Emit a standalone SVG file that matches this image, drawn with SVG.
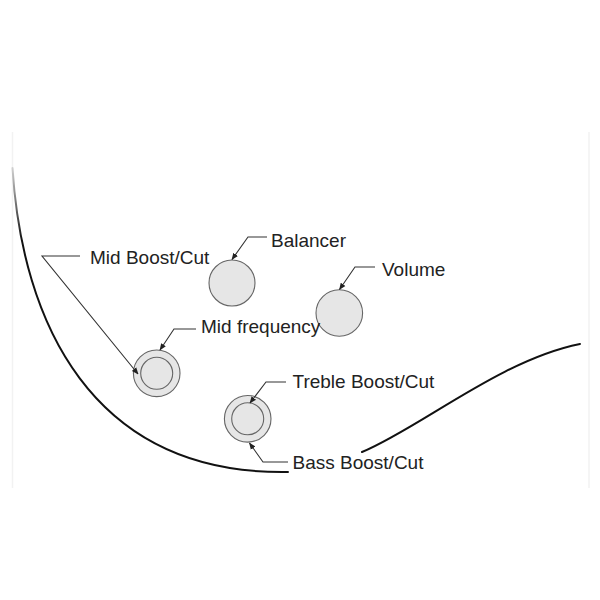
<svg xmlns="http://www.w3.org/2000/svg" width="600" height="600" viewBox="0 0 600 600">
  <defs>
    <marker id="arr" viewBox="0 0 10 10" refX="9" refY="5" markerWidth="7" markerHeight="7" markerUnits="userSpaceOnUse" orient="auto">
      <path d="M0,1 L10,5 L0,9 Z" fill="#222"/>
    </marker>
    <linearGradient id="fade" gradientUnits="userSpaceOnUse" x1="0" y1="165" x2="0" y2="240">
      <stop offset="0" stop-color="#d8d8d8"/>
      <stop offset="1" stop-color="#111"/>
    </linearGradient>
  </defs>
  <style>
    .lbl { font-family: "Liberation Sans", Arial, sans-serif; font-size: 19px; fill: #222; }
    .knob { fill: #e6e6e6; stroke: #666; stroke-width: 1.1; }
    .lead { fill: none; stroke: #333; stroke-width: 1.1; marker-end: url(#arr); }
    .body { fill: none; stroke-width: 2; stroke-linecap: round; }
    .edge { stroke: #f2f2f2; stroke-width: 1.5; }
  </style>
  <rect width="600" height="600" fill="#fff"/>
  <g id="frame">
    <line class="edge" x1="12.5" y1="132" x2="12.5" y2="488"/>
    <line class="edge" x1="589" y1="132" x2="589" y2="488"/>
  </g>
  <g id="body-outline">
    <path class="body" stroke="url(#fade)" d="M12.5,168 C22,320 90,475 288,472"/>
    <path class="body" stroke="#111" d="M362,452 C420,428 500,360 580,344"/>
  </g>
  <g id="knob-balancer"><circle class="knob" cx="232" cy="283" r="23"/></g>
  <g id="knob-volume"><circle class="knob" cx="339.3" cy="313" r="23.3"/></g>
  <g id="knob-mid">
    <circle class="knob" cx="156.7" cy="373.3" r="23.3"/>
    <circle class="knob" cx="156.7" cy="373.3" r="16"/>
  </g>
  <g id="knob-treble-bass">
    <circle class="knob" cx="247.7" cy="418.8" r="23.3"/>
    <circle class="knob" cx="247.7" cy="418.8" r="16"/>
  </g>
  <g id="connectors">
    <polyline class="lead" points="80,256 42,256 138,374"/>
    <polyline class="lead" points="267,237 248,237 232,259.5"/>
    <polyline class="lead" points="375,267 355,267 339.5,289.5"/>
    <polyline class="lead" points="196,329 174,329 160,350"/>
    <polyline class="lead" points="286,382 266,382 250,403"/>
    <polyline class="lead" points="288,462 263,462 249.5,443"/>
  </g>
  <g id="labels">
    <text class="lbl" x="90" y="263.5">Mid Boost/Cut</text>
    <text class="lbl" x="271" y="246.5">Balancer</text>
    <text class="lbl" x="382" y="276">Volume</text>
    <text class="lbl" x="201" y="332.5">Mid frequency</text>
    <text class="lbl" x="292.5" y="388">Treble Boost/Cut</text>
    <text class="lbl" x="292.5" y="469">Bass Boost/Cut</text>
  </g>
</svg>
